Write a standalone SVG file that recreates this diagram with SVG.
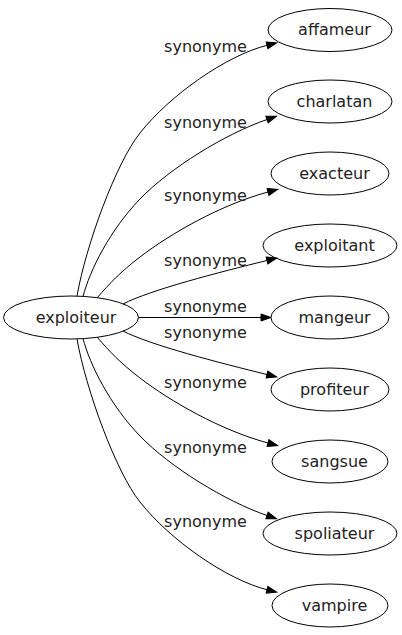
<svg xmlns="http://www.w3.org/2000/svg" width="402" height="635" viewBox="0 0 402 635">
<style>
.n ellipse{fill:none;stroke:#000;stroke-width:1}
.n text{font-family:"DejaVu Sans",sans-serif;font-size:16px;fill:#222;text-anchor:middle}
.e path{fill:none;stroke:#000;stroke-width:1;marker-end:url(#a)}
.e text{font-family:"DejaVu Sans",sans-serif;font-size:16px;fill:#222;text-anchor:middle}
</style>
<defs>
<marker id="a" markerUnits="userSpaceOnUse" markerWidth="10" markerHeight="7" refX="0" refY="3.5" orient="auto" overflow="visible">
<path d="M0,0 L10,3.5 L0,7 z" fill="#000" stroke="#000" stroke-width="1"/>
</marker>
</defs>
<rect width="402" height="635" fill="#fff"/>
<g id="edges" class="e">
<path d="M77,296 C86,245 116,163 140,133 C170,95 226.5,55.5 267,45.3"/>
<text x="205.5" y="52">synonyme</text>
<path d="M83,296.5 C90,270 110,230 140,199 C170,168 225,134 267,119.5"/>
<text x="205.5" y="128">synonyme</text>
<path d="M97,298 C110,283 120,272.3 140,257 C170,234 220,205 268,192"/>
<text x="205.5" y="201">synonyme</text>
<path d="M123,304 C150,290 220,272 267,260.5"/>
<text x="205.5" y="266">synonyme</text>
<path d="M138.5,317.5 L261,317.5"/>
<text x="205.5" y="312">synonyme</text>
<path d="M123,331 C150,345 220,363 267,374.5"/>
<text x="205.5" y="338">synonyme</text>
<path d="M97,337 C110,352 120,362.7 140,378 C170,401 220,430 268,443"/>
<text x="205.5" y="388">synonyme</text>
<path d="M83,338.5 C90,365 110,405 140,436 C170,467 225,501 267,515.5"/>
<text x="205.5" y="453">synonyme</text>
<path d="M77,339 C86,390 116,472 140,502 C170,540 226.5,579.5 267,589.7"/>
<text x="205.5" y="527">synonyme</text>
</g>
<g id="exploiteur" class="n"><ellipse cx="71" cy="317.5" rx="67.5" ry="21.5"/><text x="76" y="322.5">exploiteur</text></g>
<g id="affameur" class="n"><ellipse cx="330" cy="30" rx="62" ry="21.5"/><text x="334.5" y="35">affameur</text></g>
<g id="charlatan" class="n"><ellipse cx="330" cy="101.5" rx="62" ry="21.5"/><text x="334.5" y="106.5">charlatan</text></g>
<g id="exacteur" class="n"><ellipse cx="330" cy="173.5" rx="59" ry="21.5"/><text x="334.5" y="178.5">exacteur</text></g>
<g id="exploitant" class="n"><ellipse cx="330" cy="245.5" rx="67" ry="21.5"/><text x="334.5" y="250.5">exploitant</text></g>
<g id="mangeur" class="n"><ellipse cx="330" cy="317.5" rx="59" ry="21.5"/><text x="334.5" y="322.5">mangeur</text></g>
<g id="profiteur" class="n"><ellipse cx="330" cy="389.5" rx="59" ry="21.5"/><text x="334.5" y="394.5">profiteur</text></g>
<g id="sangsue" class="n"><ellipse cx="330" cy="461.5" rx="58" ry="21.5"/><text x="334.5" y="466.5">sangsue</text></g>
<g id="spoliateur" class="n"><ellipse cx="330" cy="533.5" rx="67" ry="21.5"/><text x="334.5" y="538.5">spoliateur</text></g>
<g id="vampire" class="n"><ellipse cx="330" cy="605.5" rx="58" ry="21.5"/><text x="334.5" y="610.5">vampire</text></g>
</svg>
